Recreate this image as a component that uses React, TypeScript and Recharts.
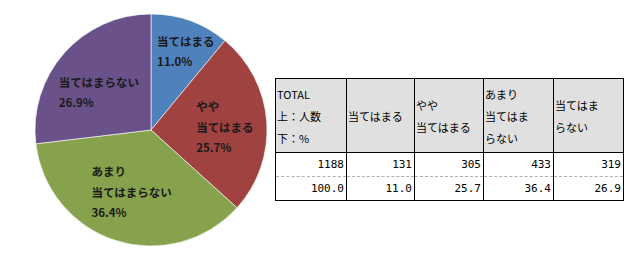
import React from "react";
import { PieChart, Pie, Cell } from "recharts";

// 回答カテゴリと集計値
const categories = ["当てはまる", "やや\n当てはまる", "あまり\n当てはまらない", "当てはまらない"];
const counts = [131, 305, 433, 319];
const percents = [11.0, 25.7, 36.4, 26.9];
const totalCount = 1188;
const totalPercent = 100.0;

// 表の見出し（セル内の改行位置込み）
const tableHeaders = ["TOTAL\n上：人数\n下：%", "当てはまる", "やや\n当てはまる", "あまり\n当てはま\nらない", "当てはま\nらない"];

const colors = ["#4F81BD", "#A0423F", "#86A24C", "#6A5189"];

const pieData = categories.map((name, i) => ({ name, value: percents[i] }));

const RADIAN = Math.PI / 180;
// ラベル位置（半径に対する比率と微調整）
const labelRadius = [0.76, 0.64, 0.55, 0.6];
const labelShift = [
  [5, 4],
  [0, 2],
  [0, 1],
  [0, 8],
];

const renderLabel = (props: any) => {
  const { cx, cy, midAngle, outerRadius, index } = props;
  const r = outerRadius * labelRadius[index];
  const x = cx + r * Math.cos(-midAngle * RADIAN);
  const y = cy + r * Math.sin(-midAngle * RADIAN);
  const lines = [...categories[index].split("\n"), `${percents[index].toFixed(1)}%`];
  const maxLen = Math.max(...lines.map((l) => (l.includes("%") ? l.length * 0.6 : l.length)));
  const lineH = 20.5;
  const left = x - (maxLen * 11.5) / 2 + labelShift[index][0];
  const top = y - ((lines.length - 1) * lineH) / 2 + labelShift[index][1];
  return (
    <text
      x={left}
      y={top}
      fill="#1a1a1a"
      fontSize={11.5}
      fontWeight="bold"
      fontFamily="'Noto Sans CJK JP', sans-serif"
      textAnchor="start"
      dominantBaseline="central"
    >
      {lines.map((l, i) => (
        <tspan key={i} x={left} dy={i === 0 ? 0 : lineH}>
          {l}
        </tspan>
      ))}
    </text>
  );
};

const border = "1px solid #000";
const colWidths = [71, 68, 69, 70, 70];

const headerCell: React.CSSProperties = {
  background: "#E0E0E0",
  border,
  padding: "0 1px",
  verticalAlign: "middle",
  textAlign: "left",
  fontWeight: "normal",
  lineHeight: "22px",
  whiteSpace: "pre-line",
  fontFamily: "'Noto Sans CJK JP', sans-serif",
  fontSize: 11,
};

const numCell = (dashedTop: boolean, dashedBottom: boolean): React.CSSProperties => ({
  borderLeft: border,
  borderRight: border,
  borderTop: dashedTop ? "1px dashed #B0B0B0" : border,
  borderBottom: dashedBottom ? "1px dashed #B0B0B0" : border,
  textAlign: "right",
  padding: "0 2px",
  height: 23,
  fontFamily: "'DejaVu Sans Mono', monospace",
  fontSize: 11,
  background: "#fff",
});

export default function App() {
  const countRow = [totalCount, ...counts];
  const pctRow = [totalPercent, ...percents];
  return (
    <div style={{ position: "absolute", left: 0, top: 0, width: 629, height: 261, background: "#fff" }}>
      <div style={{ position: "absolute", left: 0, top: 0 }}>
        <PieChart width={300} height={261}>
          <Pie
            data={pieData}
            dataKey="value"
            cx={146}
            cy={125}
            outerRadius={116}
            startAngle={90}
            endAngle={-270}
            stroke="#ffffff"
            strokeWidth={0.6}
            label={renderLabel}
            labelLine={false}
            isAnimationActive={false}
          >
            {pieData.map((_, i) => (
              <Cell key={i} fill={colors[i]} />
            ))}
          </Pie>
        </PieChart>
      </div>
      <table
        style={{
          position: "absolute",
          left: 275,
          top: 78,
          borderCollapse: "collapse",
          tableLayout: "fixed",
          width: 348,
        }}
      >
        <colgroup>
          {colWidths.map((w, i) => (
            <col key={i} style={{ width: w }} />
          ))}
        </colgroup>
        <thead>
          <tr style={{ height: 74 }}>
            {tableHeaders.map((h, i) => (
              <th key={i} style={headerCell}>
                {h}
              </th>
            ))}
          </tr>
        </thead>
        <tbody>
          <tr>
            {countRow.map((v, i) => (
              <td key={i} style={numCell(false, true)}>
                {v}
              </td>
            ))}
          </tr>
          <tr>
            {pctRow.map((v, i) => (
              <td key={i} style={numCell(true, false)}>
                {v.toFixed(1)}
              </td>
            ))}
          </tr>
        </tbody>
      </table>
    </div>
  );
}
